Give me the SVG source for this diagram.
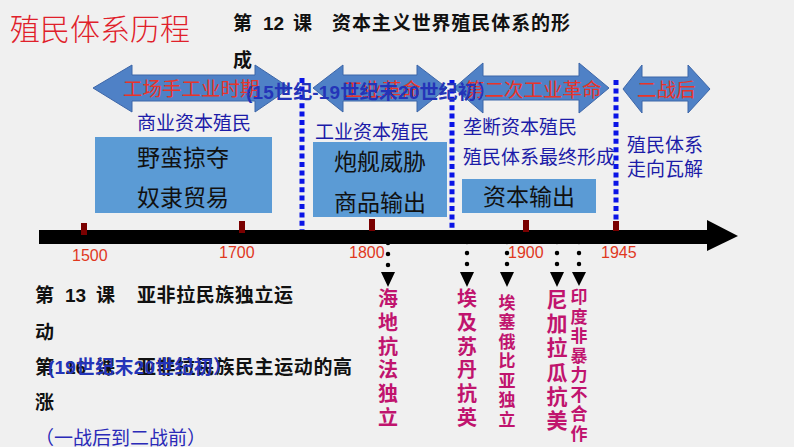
<svg xmlns="http://www.w3.org/2000/svg" width="794" height="447" viewBox="0 0 794 447">
<style>
.cjk{font-family:"Noto Sans CJK SC","Liberation Sans",sans-serif}
.lesson{font-family:"Liberation Sans","Noto Sans CJK SC",sans-serif;font-weight:bold;font-size:19px;fill:#111}
.arrow{fill:#4f81c6;stroke:#3d66a8;stroke-width:1}
.redlab{font-size:19.5px;fill:#e8342a}
.over{font-family:"Liberation Sans","Noto Sans CJK SC",sans-serif;font-weight:bold;font-size:19px;fill:#2434b8}
.blue{font-size:19px;fill:#1c1ca8}
.box{fill:#5b9bd5}
.boxt{font-size:23px;fill:#111}
.sep{stroke:#0a14e6;stroke-width:5;stroke-dasharray:5 3.4}
.tick{fill:#7a0000}
.year{font-family:"Liberation Sans",sans-serif;font-size:16px;fill:#e0381e}
.dots{stroke:#000;stroke-width:4.5;stroke-linecap:round;stroke-dasharray:0 11}
.vt{fill:#c0146e;font-weight:bold;text-anchor:middle}
</style>
<rect width="794" height="447" fill="#f0f0f0"/>

<g id="title">
<text class="cjk" x="10" y="40" font-size="30" font-weight="300" fill="#e0202a">殖民体系历程</text>
</g>

<g id="lesson12">
<text class="lesson"><tspan x="233" y="30">第</tspan><tspan x="263" y="30">12</tspan><tspan x="293" y="30">课</tspan><tspan x="332" y="30" textLength="238">资本主义世界殖民体系的形</tspan><tspan x="233" y="67">成</tspan></text>
</g>

<g id="period-arrows">
<polygon id="arrow-workshop" class="arrow" points="93,88 132,65 132,75 255,75 255,65 290,88 255,112 255,101 132,101 132,112"/>
<polygon id="arrow-industrial" class="arrow" points="313,88 343,65 343,75 417,75 417,65 447,88 417,112 417,101 343,101 343,112"/>
<polygon id="arrow-second" class="arrow" points="454,88 483,63 483,76 579,76 579,63 609,88 579,113 579,100 483,100 483,113"/>
<polygon id="arrow-postwar" class="arrow" points="623,89 642,65 642,77 688,77 688,65 710,89 688,113 688,101 642,101 642,113"/>
</g>

<g id="separators">
<line class="sep" x1="302" y1="78" x2="302" y2="232"/>
<line class="sep" x1="452" y1="80" x2="452" y2="232"/>
<line class="sep" x1="616" y1="80" x2="616" y2="232"/>
</g>

<g id="arrow-labels">
<text class="cjk redlab" x="123" y="96">工场手工业时期</text>
<text class="cjk redlab" x="343" y="97" font-size="19">工业革命</text>
<text class="cjk redlab" x="465" y="97" font-size="20">第二次工业革命</text>
<text class="cjk redlab" x="637" y="97" font-size="20">二战后</text>
<text class="over" x="246" y="99" textLength="250">(15世纪-19世纪末20世纪初）</text>
</g>

<g id="stage-merchant">
<text class="cjk blue" x="137" y="130">商业资本殖民</text>
<rect class="box" x="95" y="137" width="177" height="76"/>
<text class="cjk boxt" x="137" y="166">野蛮掠夺</text>
<text class="cjk boxt" x="137" y="206">奴隶贸易</text>
</g>

<g id="stage-industrial">
<text class="cjk blue" x="315" y="139">工业资本殖民</text>
<rect class="box" x="313" y="142" width="134" height="75"/>
<text class="cjk boxt" x="334" y="170">炮舰威胁</text>
<text class="cjk boxt" x="334" y="211">商品输出</text>
</g>

<g id="stage-monopoly">
<text class="cjk blue" x="463" y="134">垄断资本殖民</text>
<text class="cjk blue" x="463" y="164" font-size="16">殖民体系最终形成</text>
<rect class="box" x="462" y="179" width="134" height="34"/>
<text class="cjk boxt" x="483" y="205">资本输出</text>
</g>

<g id="stage-collapse">
<text class="cjk blue"><tspan x="627" y="152">殖民体系</tspan><tspan x="627" y="176">走向瓦解</tspan></text>
</g>

<g id="timeline">
<rect x="39" y="230" width="669" height="14" fill="#000"/>
<polygon points="707,220 738,236 707,251" fill="#000"/>
<rect class="tick" x="81" y="223" width="6" height="12"/>
<rect class="tick" x="239" y="221" width="6" height="12"/>
<rect class="tick" x="369" y="219" width="6" height="12"/>
<rect class="tick" x="523" y="220" width="6" height="12"/>
<rect class="tick" x="613" y="221" width="6" height="10"/>
<text class="year" x="72" y="261">1500</text>
<text class="year" x="219" y="258">1700</text>
<text class="year" x="349" y="258">1800</text>
<text class="year" x="508" y="258">1900</text>
<text class="year" x="601" y="258">1945</text>
</g>

<g id="event-connectors">
<line class="dots" x1="388" y1="243" x2="388" y2="266"/>
<polygon points="381,272 395,272 388,287"/>
<line class="dots" x1="467" y1="242" x2="467" y2="265"/>
<polygon points="460,272 474,272 467,287"/>
<line class="dots" x1="507" y1="242" x2="507" y2="265"/>
<polygon points="500,272 514,272 507,287"/>
<line class="dots" x1="557" y1="242" x2="557" y2="265"/>
<polygon points="550,272 564,272 557,287"/>
<line class="dots" x1="579" y1="242" x2="579" y2="265"/>
<polygon points="572,272 586,272 579,286"/>
</g>

<g id="event-haiti">
<text class="cjk vt" font-size="20"><tspan x="388" y="306">海</tspan><tspan x="388" y="330">地</tspan><tspan x="388" y="354">抗</tspan><tspan x="388" y="377">法</tspan><tspan x="388" y="401">独</tspan><tspan x="388" y="425">立</tspan></text>
</g>
<g id="event-egypt">
<text class="cjk vt" font-size="20"><tspan x="467" y="306">埃</tspan><tspan x="467" y="330">及</tspan><tspan x="467" y="354">苏</tspan><tspan x="467" y="377">丹</tspan><tspan x="467" y="401">抗</tspan><tspan x="467" y="425">英</tspan></text>
</g>
<g id="event-ethiopia">
<text class="cjk vt" font-size="17"><tspan x="507" y="309">埃</tspan><tspan x="507" y="328">塞</tspan><tspan x="507" y="348">俄</tspan><tspan x="507" y="367">比</tspan><tspan x="507" y="387">亚</tspan><tspan x="507" y="406">独</tspan><tspan x="507" y="426">立</tspan></text>
</g>
<g id="event-nicaragua">
<text class="cjk vt" font-size="21"><tspan x="557" y="307">尼</tspan><tspan x="557" y="331">加</tspan><tspan x="557" y="355">拉</tspan><tspan x="557" y="380">瓜</tspan><tspan x="557" y="404">抗</tspan><tspan x="557" y="428">美</tspan></text>
</g>
<g id="event-india">
<text class="cjk vt" font-size="17"><tspan x="579" y="303">印</tspan><tspan x="579" y="323">度</tspan><tspan x="579" y="342">非</tspan><tspan x="579" y="362">暴</tspan><tspan x="579" y="381">力</tspan><tspan x="579" y="401">不</tspan><tspan x="579" y="420">合</tspan><tspan x="579" y="440">作</tspan></text>
</g>

<g id="lesson13">
<text class="lesson"><tspan x="35" y="302">第</tspan><tspan x="65" y="302">13</tspan><tspan x="96" y="302">课</tspan><tspan x="137" y="302" textLength="156">亚非拉民族独立运</tspan><tspan x="35" y="339">动</tspan></text>
</g>

<g id="lesson16">
<text class="lesson"><tspan x="35" y="374">第</tspan><tspan x="65" y="374">16</tspan><tspan x="96" y="374">课</tspan><tspan x="137" y="374" textLength="215">亚非拉民族民主运动的高</tspan><tspan x="35" y="409">涨</tspan></text>
<text class="over" x="48" y="374" font-size="18" textLength="184">(19世纪末20世纪初）</text>
<text class="cjk" x="35" y="445" font-size="19" fill="#2a2ab8">（一战后到二战前）</text>
</g>
</svg>
